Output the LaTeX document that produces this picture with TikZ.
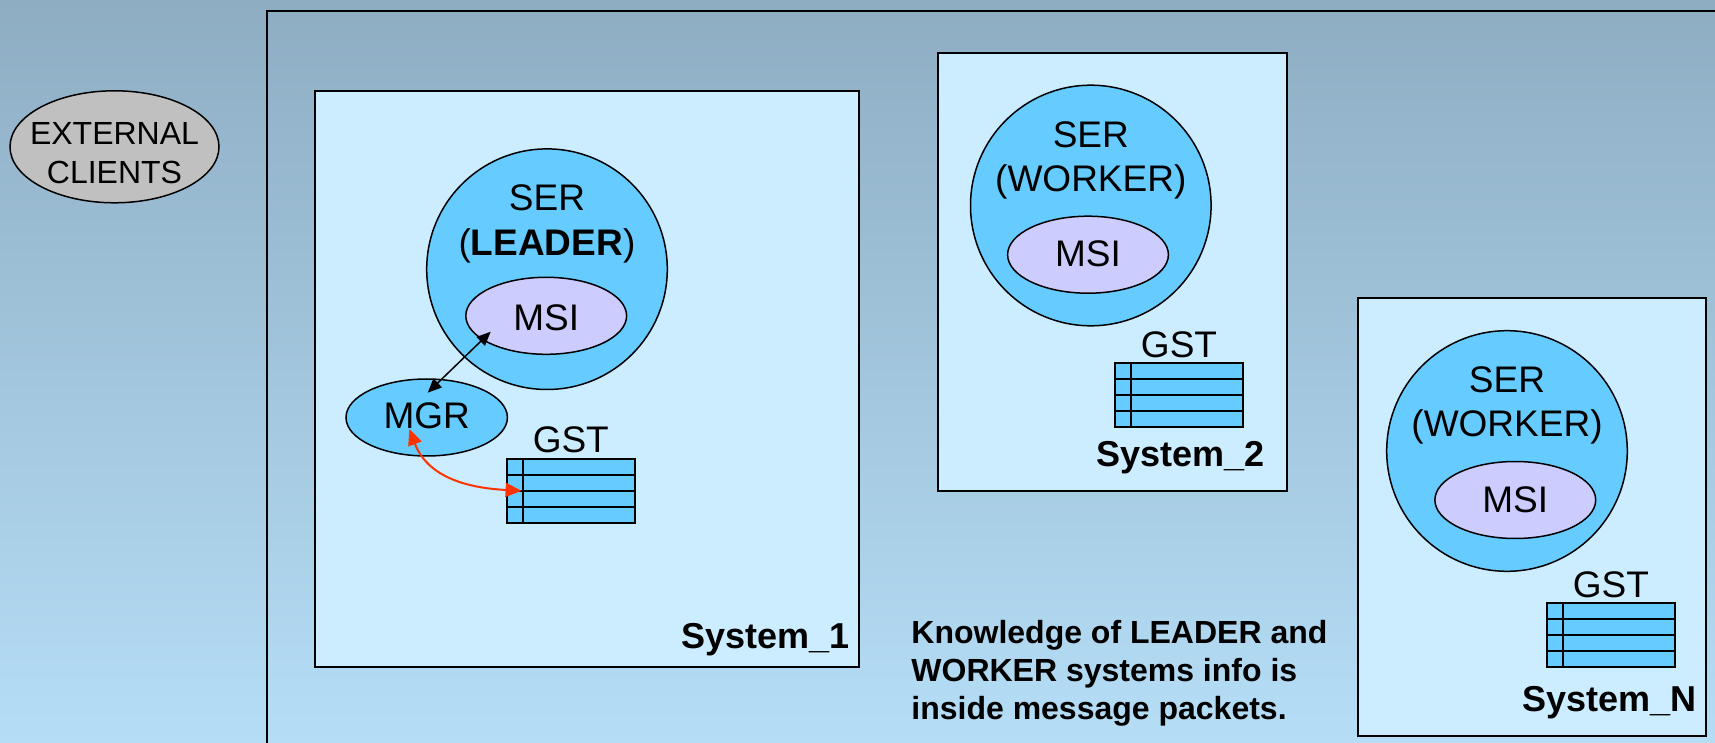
\documentclass[tikz,border=0pt]{standalone}
\usepackage{fontspec}
\setmainfont{Liberation Sans}
\usetikzlibrary{shapes.geometric,arrows.meta,calc}

\definecolor{bgtop}{RGB}{142,173,195}
\definecolor{bgbot}{RGB}{181,222,246}
\definecolor{sysfill}{RGB}{204,236,255}
\definecolor{serfill}{RGB}{102,204,255}
\definecolor{msifill}{RGB}{204,204,255}
\definecolor{extfill}{RGB}{192,192,192}
\definecolor{linkred}{RGB}{255,51,0}

\tikzset{
  sysbox/.style={rectangle, draw=black, line width=1pt, fill=sysfill, inner sep=0pt},
  sercircle/.style={circle, draw=black, line width=0.75pt, fill=serfill, inner sep=0pt, minimum size=120.3pt},
  msiell/.style={ellipse, draw=black, line width=0.75pt, fill=msifill, inner sep=0pt,
    minimum width=80.4pt, minimum height=38.5pt},
  mgrell/.style={ellipse, draw=black, line width=0.75pt, fill=serfill, inner sep=0pt,
    minimum width=80.7pt, minimum height=38.5pt},
  extell/.style={ellipse, draw=black, line width=0.75pt, fill=extfill, inner sep=0pt,
    minimum width=104.5pt, minimum height=56pt},
  gsttable/.style={rectangle, draw=black, line width=1pt, fill=serfill, inner sep=0pt,
    minimum width=64.25pt, minimum height=32.25pt,
    path picture={
      \draw[line width=1pt] ([xshift=8pt]path picture bounding box.north west)
        -- ([xshift=8pt]path picture bounding box.south west);
      \foreach \f in {0.25,0.5,0.75}
        \draw[line width=1pt]
          ($(path picture bounding box.south west)!\f!(path picture bounding box.north west)$)
          -- ($(path picture bounding box.south east)!\f!(path picture bounding box.north east)$);
    }},
  lbl/.style={anchor=base, inner sep=0pt, font=\fontsize{18.5pt}{22pt}\selectfont},
  extlbl/.style={anchor=base, inner sep=0pt, font=\fontsize{16pt}{19pt}\selectfont},
  syslbl/.style={anchor=base east, inner sep=0pt, font=\fontsize{18pt}{21.6pt}\selectfont\bfseries},
  notelbl/.style={anchor=base west, inner sep=0pt, font=\fontsize{16pt}{19pt}\selectfont\bfseries},
  blacklink/.style={line width=0.75pt, draw=black,
    {Triangle[length=7pt,width=6pt]}-{Triangle[length=7pt,width=6pt]}},
  redlink/.style={line width=1pt, draw=linkred,
    {Triangle[length=8pt,width=7pt]}-{Triangle[length=8pt,width=7pt]}},
}

\begin{document}
\begin{tikzpicture}[x=0.5pt, y=-0.5pt]
  \useasboundingbox (0,0) rectangle (1715,743);
  \clip (0,0) rectangle (1715,743);

  % background
  \shade[top color=bgtop, bottom color=bgbot] (0,0) rectangle (1715,743);

  % enclosing frame (runs off the right and bottom edges)
  \draw[line width=1pt] (267,11) rectangle (1740,770);

  % external clients
  \node[extell] (ext) at (114.5,146.8) {};
  \node[extlbl] (extA) at (114.5,144.3) {EXTERNAL};
  \node[extlbl] (extB) at (114.5,183.3) {CLIENTS};

  % ---------- System_1 (leader) ----------
  \node[sysbox, minimum width=272pt, minimum height=287.75pt] (sys1) at (587,378.75) {};
  \node[sercircle] (ser1) at (547,269.2) {};
  \node[lbl] (ser1a) at (547,211) {SER};
  \node[lbl] (ser1b) at (547,255.7) {(\textbf{LEADER})};
  \node[msiell] (msi1) at (546.2,315.8) {};
  \node[lbl] (msi1t) at (546.2,331) {MSI};
  \node[mgrell] (mgr) at (426.7,417.5) {};
  \node[lbl] (mgrt) at (426.7,428.3) {MGR};
  \node[gsttable] (gst1) at (570.8,490.8) {};
  \node[lbl] (gst1t) at (570.8,452.7) {GST};
  \node[syslbl] (sys1t) at (850,648) {System\_1};

  % ---------- System_2 (worker) ----------
  \node[sysbox, minimum width=174.1pt, minimum height=218.85pt] (sys2) at (1112.4,272.15) {};
  \node[sercircle] (ser2) at (1090.8,205.5) {};
  \node[lbl] (ser2a) at (1090.8,147.3) {SER};
  \node[lbl] (ser2b) at (1090.8,191.7) {(WORKER)};
  \node[msiell] (msi2) at (1088,254.7) {};
  \node[lbl] (msi2t) at (1088,266.7) {MSI};
  \node[gsttable] (gst2) at (1179,395) {};
  \node[lbl] (gst2t) at (1179,357.7) {GST};
  \node[syslbl] (sys2t) at (1265,466.7) {System\_2};

  % ---------- System_N (worker) ----------
  \node[sysbox, minimum width=174pt, minimum height=218.85pt] (sysN) at (1532,516.85) {};
  \node[sercircle] (serN) at (1507,451) {};
  \node[lbl] (serNa) at (1507,392.3) {SER};
  \node[lbl] (serNb) at (1507,436.7) {(WORKER)};
  \node[msiell] (msiN) at (1515.3,500) {};
  \node[lbl] (msiNt) at (1515.3,512.3) {MSI};
  \node[gsttable] (gstN) at (1610.85,634.85) {};
  \node[lbl] (gstNt) at (1610.85,597.7) {GST};
  \node[syslbl] (sysNt) at (1696.7,711.7) {System\_N};

  % note
  \node[notelbl] (note1) at (911,643) {Knowledge of LEADER and};
  \node[notelbl] (note2) at (911,681) {WORKER systems info is};
  \node[notelbl] (note3) at (911,719) {inside message packets.};

  % links
  \draw[blacklink] ($(mgr)+(1,-24.8)$) -- ($(msi1)+(-55.5,15.9)$);
  \draw[redlink] ($(mgr)+(-17.4,11.5)$)
    .. controls ($(mgr)+(1.3,60.5)$) and ($(gst1.west)+(-36.7,-2.8)$)
    .. ($(gst1.west)+(16,0)$);
\end{tikzpicture}
\end{document}
